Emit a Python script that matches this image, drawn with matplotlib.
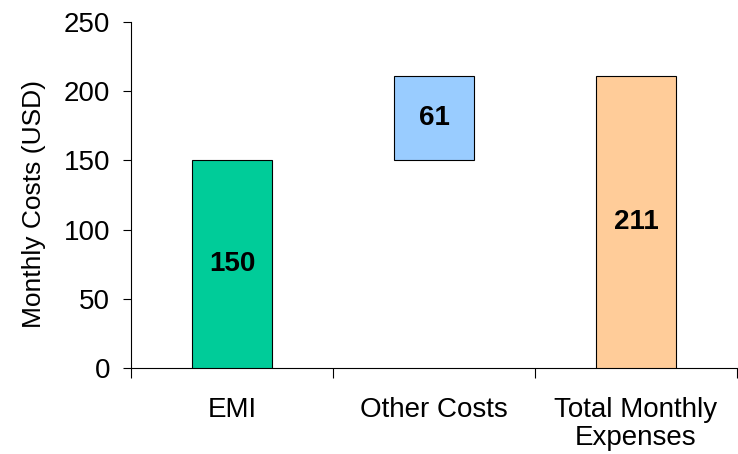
import numpy as np
import matplotlib.pyplot as plt
from matplotlib.ticker import FixedLocator

plt.rcParams['font.family'] = ['Liberation Sans', 'DejaVu Sans']

# data
categories = ['EMI', 'Other Costs', 'Total Monthly\nExpenses']
values = [150, 61, 211]
bottoms = [0, 150, 0]
colors = ['#00CC99', '#99CCFF', '#FFCC99']

fig = plt.figure(figsize=(7.38, 4.54), dpi=100)
ax = fig.add_axes([0.1775, 0.1894, 0.8211, 0.7621])

x = np.arange(len(categories))
ax.bar(x, values, width=0.4, bottom=bottoms, color=colors,
       edgecolor='black', linewidth=0.8, zorder=3)

for xi, v, b in zip(x, values, bottoms):
    ax.text(xi, b + v / 2, str(v), ha='center', va='center',
            fontsize=20, fontweight='bold', zorder=4)

ax.set_xlim(-0.5, len(categories) - 0.5)
ax.set_ylim(0, 250)
ax.set_yticks([0, 50, 100, 150, 200, 250])
ax.tick_params(axis='y', labelsize=20, length=6, width=0.8, pad=9, direction='out')

ax.set_xticks(x)
ax.set_xticklabels(categories, fontsize=20, linespacing=1.1)
ax.tick_params(axis='x', which='major', length=0, pad=21)
ax.xaxis.set_minor_locator(FixedLocator(np.arange(len(categories) + 1) - 0.5))
ax.tick_params(axis='x', which='minor', length=7, width=0.8, direction='out')

ax.set_ylabel('Monthly Costs (USD)', fontsize=19)
ax.yaxis.set_label_coords(-0.14, 0.474)

for side in ['top', 'right']:
    ax.spines[side].set_visible(False)
for side in ['left', 'bottom']:
    ax.spines[side].set_linewidth(0.8)

fig.savefig('out.png', dpi=100)
